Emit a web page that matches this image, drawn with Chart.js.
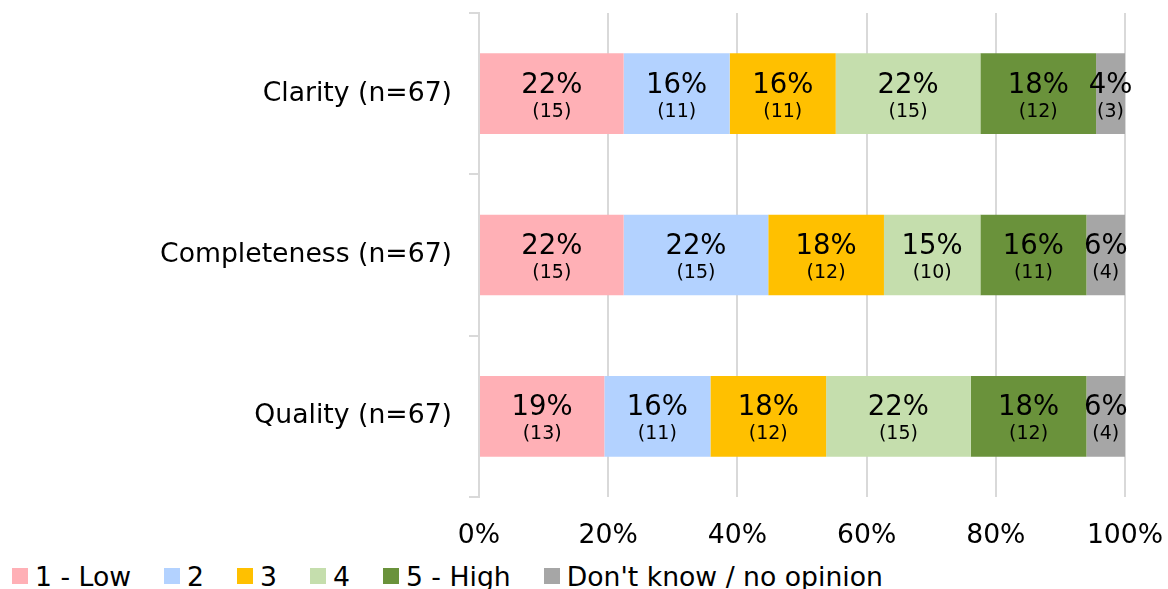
<!DOCTYPE html>
<html>
<head>
<meta charset="utf-8">
<script src="https://cdn.jsdelivr.net/npm/chart.js@4"></script>
<style>
  html,body{margin:0;padding:0;background:#fff;}
  #wrap{position:relative;width:1168px;height:589px;overflow:hidden;font-family:"DejaVu Sans",Verdana,sans-serif;}
  #box{position:absolute;left:0;top:0;width:1168px;height:550px;}
  #legend{position:absolute;left:12px;top:560px;display:flex;align-items:center;height:32px;font-size:26.67px;color:#000;white-space:nowrap;}
  #legend .it{display:flex;align-items:center;margin-right:33px;}
  #legend .sw{width:16px;height:16px;margin-right:7px;}
</style>
</head>
<body>
<div id="wrap">
  <div id="box"><canvas id="ratingChart"></canvas></div>
  <div id="legend"></div>
</div>
<script>
/* rating distribution, counts per answer, n=67 per item */
const categories = ['Clarity (n=67)', 'Completeness (n=67)', 'Quality (n=67)'];
const totals     = [67, 67, 67];
const seriesNames = ['1 - Low', '2', '3', '4', '5 - High', "Don't know / no opinion"];
const countsLow   = [15, 15, 13];
const counts2     = [11, 15, 11];
const counts3     = [11, 12, 12];
const counts4     = [15, 10, 15];
const countsHigh  = [12, 11, 12];
const countsDk    = [3, 4, 4];
const xTicks = [0, 20, 40, 60, 80, 100];

const colors = ['#ffb0b6', '#b3d2ff', '#ffc000', '#c5dead', '#6a923b', '#a6a6a6'];
const FONT = '"DejaVu Sans", Verdana, sans-serif';

const allCounts = [countsLow, counts2, counts3, counts4, countsHigh, countsDk];

const datasets = allCounts.map((c, i) => ({
  label: seriesNames[i],
  counts: c,
  data: c.map((v, j) => v / totals[j] * 100),
  backgroundColor: colors[i],
  borderWidth: 0,
  barPercentage: 0.5,
  categoryPercentage: 1.0,
}));

/* ── segment labels: percent + (count) ───────────────────── */
const segLabels = {
  id: 'segLabels',
  afterDatasetsDraw(chart){
    const ctx = chart.ctx;
    ctx.save();
    ctx.fillStyle = '#000';
    ctx.textAlign = 'center';
    ctx.textBaseline = 'middle';
    chart.data.datasets.forEach((ds, di) => {
      chart.getDatasetMeta(di).data.forEach((bar, i) => {
        const cx = (bar.x + bar.base) / 2;
        ctx.font = '27.5px ' + FONT;
        ctx.fillText(Math.round(ds.data[i]) + '%', cx, bar.y - 8);
        ctx.font = '19px ' + FONT;
        ctx.fillText('(' + ds.counts[i] + ')', cx, bar.y + 18);
      });
    });
    ctx.restore();
  }
};

new Chart(document.getElementById('ratingChart'), {
  type: 'bar',
  data: { labels: categories, datasets },
  plugins: [segLabels],
  options: {
    indexAxis: 'y',
    responsive: true, maintainAspectRatio: false,
    animation: false,
    layout: { padding: { top: 13, right: 43, left: 0, bottom: 0 } },
    plugins: { legend: { display: false }, tooltip: { enabled: false } },
    scales: {
      x: {
        stacked: true, min: 0, max: 100,
        afterBuildTicks: s => { s.ticks = xTicks.map(v => ({ value: v })); },
        afterFit: s => { s.height = 53; s.paddingLeft = 0; s.paddingRight = 0; },
        grid: { color: '#d9d9d9', lineWidth: 2, drawTicks: false },
        border: { display: false },
        ticks: { padding: 23, color: '#000', font: { family: FONT, size: 26.67 }, callback: v => v + '%' }
      },
      y: {
        stacked: true,
        afterFit: s => { s.width = 479; s.paddingTop = 0; s.paddingBottom = 0; },
        grid: { color: '#d9d9d9', lineWidth: 2, drawOnChartArea: false, drawTicks: true, tickLength: 10, offset: true },
        border: { display: true, color: '#d9d9d9', width: 2 },
        ticks: { padding: 17, color: '#000', font: { family: FONT, size: 26.67, lineHeight: 1.5 } }
      }
    }
  }
});

/* ── legend ─────────────────────────────────────────────── */
document.getElementById('legend').innerHTML = seriesNames.map((n, i) =>
  `<div class="it"><div class="sw" style="background:${colors[i]}"></div><span>${n}</span></div>`).join('');
</script>
</body>
</html>
